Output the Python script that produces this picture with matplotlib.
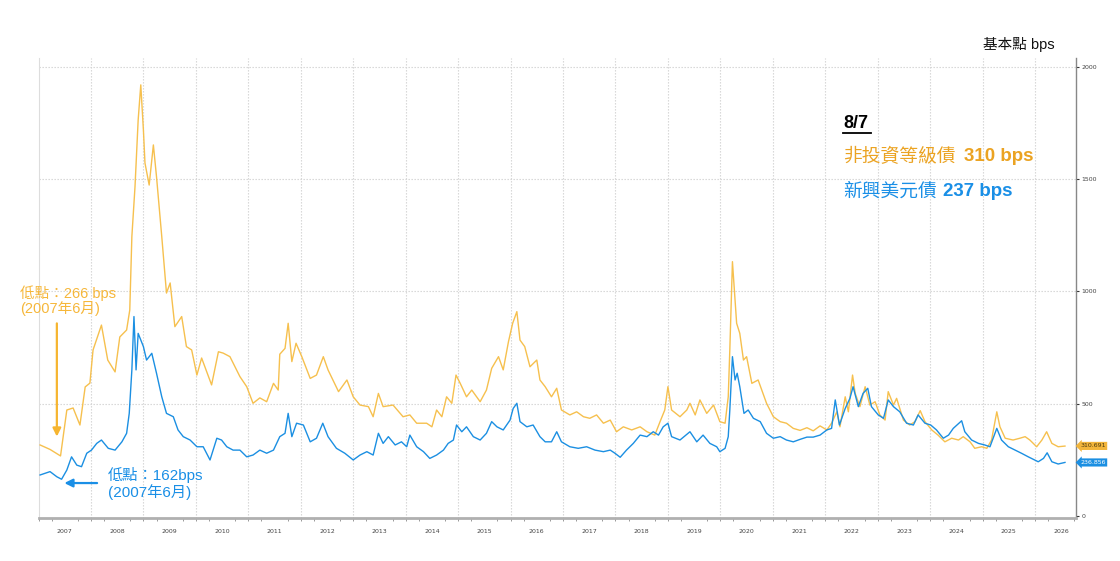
import matplotlib
matplotlib.use('Agg')
import matplotlib.pyplot as plt
from matplotlib.lines import Line2D

# ---------------- data ----------------
hy_t = [2007.03, 2007.22, 2007.42, 2007.54, 2007.66, 2007.79, 2007.89, 2007.98, 2008.04, 2008.20,
        2008.32, 2008.46, 2008.55, 2008.68, 2008.74, 2008.78, 2008.84, 2008.90, 2008.95, 2009.00,
        2009.03, 2009.11, 2009.19, 2009.25, 2009.35, 2009.44, 2009.51, 2009.60, 2009.73, 2009.82,
        2009.92, 2010.02, 2010.11, 2010.30, 2010.43, 2010.52, 2010.65, 2010.84, 2010.97, 2011.09,
        2011.22, 2011.35, 2011.48, 2011.57, 2011.60, 2011.70, 2011.76, 2011.83, 2011.91, 2012.02,
        2012.18, 2012.30, 2012.43, 2012.52, 2012.72, 2012.88, 2013.00, 2013.13, 2013.29, 2013.38,
        2013.48, 2013.57, 2013.76, 2013.95, 2014.08, 2014.21, 2014.40, 2014.50, 2014.59, 2014.69,
        2014.78, 2014.88, 2014.96, 2015.04, 2015.16, 2015.26, 2015.42, 2015.54, 2015.64, 2015.77,
        2015.86, 2015.96, 2016.04, 2016.12, 2016.18, 2016.27, 2016.37, 2016.50, 2016.56, 2016.66,
        2016.78, 2016.88, 2016.97, 2017.13, 2017.26, 2017.39, 2017.51, 2017.64, 2017.77, 2017.90,
        2018.02, 2018.15, 2018.31, 2018.47, 2018.60, 2018.75, 2018.85, 2018.94, 2019.00, 2019.07,
        2019.23, 2019.36, 2019.42, 2019.52, 2019.61, 2019.74, 2019.87, 2019.99, 2020.09, 2020.15,
        2020.18, 2020.23, 2020.27, 2020.31, 2020.37, 2020.44, 2020.50, 2020.60, 2020.72, 2020.79,
        2020.88, 2021.01, 2021.14, 2021.26, 2021.39, 2021.52, 2021.65, 2021.77, 2021.90, 2022.03,
        2022.12, 2022.22, 2022.28, 2022.38, 2022.44, 2022.52, 2022.57, 2022.66, 2022.76, 2022.85,
        2022.95, 2023.04, 2023.14, 2023.20, 2023.30, 2023.36, 2023.49, 2023.61, 2023.71, 2023.81,
        2023.90, 2024.03, 2024.15, 2024.28, 2024.41, 2024.54, 2024.63, 2024.76, 2024.85, 2024.98,
        2025.08, 2025.17, 2025.27, 2025.33, 2025.43, 2025.58, 2025.71, 2025.81, 2025.90, 2026.03,
        2026.13, 2026.22, 2026.32, 2026.44, 2026.57]
hy_v = [315, 295, 266, 471, 480, 404, 574, 591, 739, 850,
        694, 641, 797, 828, 917, 1245, 1468, 1765, 1922, 1721,
        1573, 1475, 1654, 1512, 1245, 993, 1038, 843, 888, 754,
        739, 627, 703, 583, 731, 725, 709, 620, 575, 501,
        525, 508, 590, 560, 720, 746, 858, 687, 769, 709,
        612, 627, 709, 650, 553, 605, 530, 493, 486, 441,
        545, 486, 493, 441, 449, 412, 412, 396, 471, 441,
        530, 501, 627, 590, 530, 560, 508, 560, 657, 709,
        650, 776, 858, 910, 783, 754, 664, 694, 605, 575,
        530, 568, 471, 449, 463, 441, 434, 449, 412, 426,
        374, 396, 382, 396, 374, 359, 419, 471, 575, 471,
        441, 471, 501, 449, 516, 456, 493, 419, 412, 530,
        739, 1133, 992, 858, 813, 694, 709, 590, 605, 560,
        501, 441, 419, 412, 389, 380, 392, 378, 400, 382,
        412, 463, 396, 530, 463, 627, 545, 486, 575, 493,
        508, 449, 426, 553, 493, 523, 426, 404, 419, 468,
        419, 382, 359, 329, 345, 337, 352, 329, 300, 307,
        300, 337, 463, 396, 345, 337, 345, 352, 337, 307,
        337, 374, 322, 307, 310]

em_t = [2007.03, 2007.22, 2007.35, 2007.44, 2007.54, 2007.63, 2007.73, 2007.82, 2007.92, 2008.01,
        2008.11, 2008.20, 2008.33, 2008.46, 2008.59, 2008.68, 2008.73, 2008.78, 2008.82, 2008.86,
        2008.90, 2009.00, 2009.06, 2009.16, 2009.25, 2009.35, 2009.44, 2009.57, 2009.66, 2009.76,
        2009.89, 2010.02, 2010.14, 2010.27, 2010.40, 2010.49, 2010.59, 2010.71, 2010.84, 2010.97,
        2011.09, 2011.22, 2011.35, 2011.48, 2011.60, 2011.70, 2011.76, 2011.83, 2011.92, 2012.05,
        2012.18, 2012.30, 2012.42, 2012.52, 2012.68, 2012.84, 2013.00, 2013.13, 2013.26, 2013.38,
        2013.48, 2013.57, 2013.67, 2013.80, 2013.92, 2014.02, 2014.08, 2014.21, 2014.34, 2014.46,
        2014.59, 2014.72, 2014.81, 2014.91, 2014.97, 2015.07, 2015.16, 2015.29, 2015.42, 2015.54,
        2015.64, 2015.74, 2015.86, 2015.99, 2016.05, 2016.12, 2016.18, 2016.31, 2016.43, 2016.56,
        2016.66, 2016.78, 2016.88, 2016.97, 2017.13, 2017.29, 2017.45, 2017.61, 2017.77, 2017.90,
        2017.99, 2018.09, 2018.21, 2018.34, 2018.47, 2018.60, 2018.72, 2018.82, 2018.91, 2019.00,
        2019.07, 2019.23, 2019.42, 2019.55, 2019.67, 2019.80, 2019.93, 2019.99, 2020.09, 2020.15,
        2020.18, 2020.23, 2020.28, 2020.32, 2020.37, 2020.45, 2020.53, 2020.63, 2020.76, 2020.88,
        2021.01, 2021.14, 2021.26, 2021.39, 2021.52, 2021.65, 2021.77, 2021.90, 2022.03, 2022.12,
        2022.19, 2022.27, 2022.38, 2022.47, 2022.53, 2022.63, 2022.72, 2022.81, 2022.88, 2023.01,
        2023.11, 2023.20, 2023.30, 2023.42, 2023.55, 2023.68, 2023.77, 2023.90, 2024.01, 2024.12,
        2024.25, 2024.35, 2024.44, 2024.60, 2024.66, 2024.79, 2024.92, 2025.04, 2025.14, 2025.27,
        2025.36, 2025.49, 2025.62, 2025.74, 2025.87, 2026.06, 2026.16, 2026.23, 2026.32, 2026.44,
        2026.57]
em_v = [181, 196, 173, 162, 203, 262, 225, 218, 278, 292,
        322, 337, 300, 292, 329, 367, 456, 650, 888, 650,
        813, 754, 694, 724, 635, 530, 456, 441, 382, 352,
        337, 307, 307, 248, 345, 337, 307, 292, 292, 262,
        270, 292, 278, 292, 352, 367, 456, 352, 412, 404,
        329, 345, 412, 352, 300, 278, 248, 270, 285, 270,
        367, 322, 352, 315, 329, 307, 359, 307, 285, 255,
        270, 292, 322, 337, 404, 374, 396, 352, 337, 367,
        419, 396, 382, 426, 478, 501, 419, 396, 404, 352,
        329, 329, 374, 329, 307, 300, 307, 292, 285, 292,
        278, 260, 292, 322, 359, 352, 374, 359, 396, 412,
        352, 337, 374, 329, 359, 322, 307, 285, 300, 352,
        471, 709, 605, 635, 575, 456, 471, 434, 419, 367,
        345, 352, 337, 329, 340, 350, 350, 359, 382, 389,
        516, 404, 478, 523, 575, 486, 545, 568, 486, 449,
        434, 516, 486, 463, 412, 404, 449, 412, 404, 382,
        345, 359, 389, 423, 374, 337, 322, 315, 307, 389,
        337, 307, 292, 278, 262, 240, 255, 280, 240, 230,
        237]

years = list(range(2007, 2027))
y_ticks = [0, 500, 1000, 1500, 2000]
hy_last = 310.691
em_last = 236.856
hy_label = 310
em_label = 237
hy_low = 266
em_low = 162

# ---------------- style ----------------
FONTS = ['Liberation Sans', 'Noto Sans CJK TC', 'DejaVu Sans']
plt.rcParams['font.family'] = FONTS

ORANGE_LINE = '#F6C04E'
ORANGE_TXT = '#EBA322'
ORANGE_ANN = '#F6B73A'
BLUE_LINE = '#1B8FE2'
BLUE_TXT = '#1A8FE6'
GRID = '#d2d2d2'

W, H = 1120, 561
fig = plt.figure(figsize=(W / 100, H / 100), dpi=100)
ax = fig.add_axes([38.5 / W, 43 / H, (1076 - 38.5) / W, 460 / H])

ax.set_xlim(2007.0, 2026.78)
ax.set_ylim(-11, 2042)

# grid
for y in y_ticks[1:]:
    ax.axhline(y, color=GRID, lw=0.8, ls=(0, (1.2, 1.5)), zorder=0)
for yr in years[1:]:
    ax.axvline(yr, color=GRID, lw=0.8, ls=(0, (1.2, 1.5)), zorder=0)

# lines
ax.plot(hy_t, hy_v, color=ORANGE_LINE, lw=1.0, zorder=3)
ax.plot(em_t, em_v, color=BLUE_LINE, lw=1.0, zorder=4)

# axes / ticks
ax.yaxis.tick_right()
ax.set_yticks(y_ticks)
ax.set_yticklabels([str(v) for v in y_ticks], fontsize=4.5, color='#444444',
                   family=['DejaVu Sans'])
ax.tick_params(axis='y', direction='out', length=2.5, width=0.8, color='#333333', pad=1.5)
ax.set_xticks([y + 0.5 for y in years])
ax.set_xticklabels([str(y) for y in years], fontsize=4.5, color='#444444',
                   family=['DejaVu Sans'])
ax.tick_params(axis='x', which='major', length=0, pad=8)
ax.set_xticks([y + q / 4 for y in years for q in range(4)], minor=True)
ax.tick_params(axis='x', which='minor', direction='out', length=2, width=0.6, color='#888888')

ax.spines['top'].set_visible(False)
ax.spines['left'].set_color('#dddddd')
ax.spines['left'].set_linewidth(0.8)
ax.spines['right'].set_color('#888888')
ax.spines['right'].set_linewidth(1.0)
ax.spines['bottom'].set_color('#b0b0b0')
ax.spines['bottom'].set_linewidth(2.0)

# end-value tags
tr = ax.get_yaxis_transform()
ax.text(1.004, hy_last, f'{hy_last:.3f}', transform=tr, fontsize=4.5, color='#4a3a10',
        va='center', ha='left', family=['DejaVu Sans'],
        bbox=dict(boxstyle='larrow,pad=0.25', fc='#F2B53B', ec='none'), clip_on=False)
ax.text(1.004, em_last, f'{em_last:.3f}', transform=tr, fontsize=4.5, color='white',
        va='center', ha='left', family=['DejaVu Sans'],
        bbox=dict(boxstyle='larrow,pad=0.25', fc='#1B8FE2', ec='none'), clip_on=False)

# low-point annotations
ax.annotate('', xy=(2007.35, 340), xytext=(2007.35, 870),
            arrowprops=dict(arrowstyle='-|>', color='#F6B530', lw=1.6, mutation_scale=12))
ax.text(2006.65, 960, f'低點：{hy_low} bps\n(2007年6月)', fontsize=10.5, color=ORANGE_ANN,
        ha='left', va='center', linespacing=1.0, clip_on=False)
ax.annotate('', xy=(2007.44, 145), xytext=(2008.17, 145),
            arrowprops=dict(arrowstyle='-|>', color=BLUE_TXT, lw=1.6, mutation_scale=12))
ax.text(2008.32, 142, f'低點：{em_low}bps\n(2007年6月)', fontsize=11, color=BLUE_TXT,
        ha='left', va='center', linespacing=1.1, clip_on=False)

# title / unit
fig.text(1055 / W, 1 - 44 / H, '基本點 bps', fontsize=10.5, color='#111111', ha='right', va='center')

# legend block
fig.text(843 / W, 1 - 123 / H, '8/7', fontsize=13, fontweight='bold', color='black',
         ha='left', va='center')
fig.add_artist(Line2D([843 / W, 871 / W], [1 - 133 / H, 1 - 133 / H], color='black', lw=1.3))
fig.text(843 / W, 1 - 157 / H, '非投資等級債', fontsize=13.5, color=ORANGE_TXT, ha='left', va='center')
fig.text(964 / W, 1 - 157 / H, f'{hy_label} bps', fontsize=13.5, fontweight='bold',
         color=ORANGE_TXT, ha='left', va='center')
fig.text(843 / W, 1 - 192 / H, '新興美元債', fontsize=13.5, color=BLUE_TXT, ha='left', va='center')
fig.text(943 / W, 1 - 192 / H, f'{em_label} bps', fontsize=13.5, fontweight='bold',
         color=BLUE_TXT, ha='left', va='center')

fig.savefig('out.png', dpi=100)
